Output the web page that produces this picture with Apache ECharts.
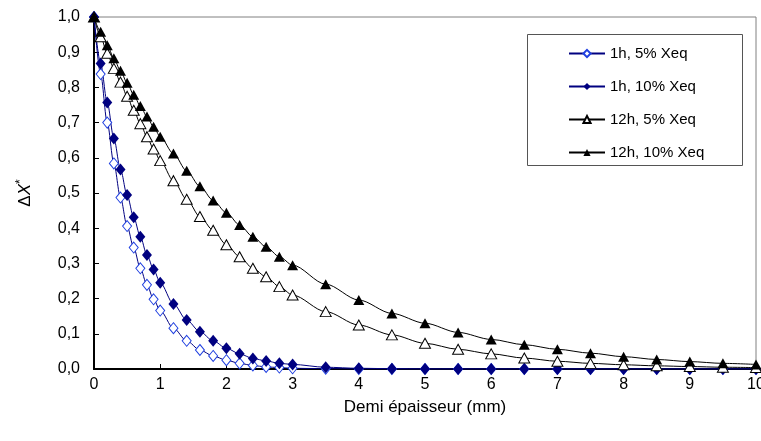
<!DOCTYPE html>
<html>
<head>
<meta charset="utf-8">
<script src="https://cdn.jsdelivr.net/npm/echarts@6/dist/echarts.min.js"></script>
<style>
html,body{margin:0;padding:0;background:#fff;}
#chart{width:761px;height:441px;}
</style>
</head>
<body>
<div id="chart"></div>
<script>
// Demi épaisseur (mm)
var xs = [0,0.1,0.2,0.3,0.4,0.5,0.6,0.7,0.8,0.9,1.0,1.2,1.4,1.6,1.8,2.0,2.2,2.4,2.6,2.8,3.0,3.5,4,4.5,5,5.5,6,6.5,7,7.5,8,8.5,9,9.5,10];
var seriesNames = ['1h, 5% Xeq','1h, 10% Xeq','12h, 5% Xeq','12h, 10% Xeq'];
var h1_5 = [1.0,0.838,0.700,0.584,0.487,0.406,0.345,0.286,0.239,0.198,0.166,0.116,0.080,0.054,0.037,0.025,0.016,0.010,0.006,0.004,0.002,0.001,0,0,0,0,0,0,0,0,0,0,0,0,0];
var h1_10 = [1.0,0.868,0.757,0.655,0.567,0.494,0.431,0.376,0.324,0.283,0.245,0.185,0.139,0.106,0.080,0.059,0.043,0.030,0.023,0.016,0.013,0.005,0.002,0.001,0,0,0,0,0,0,0,0,0,0,0];
var h12_5 = [1.0,0.944,0.897,0.854,0.815,0.775,0.735,0.697,0.660,0.625,0.592,0.535,0.482,0.433,0.394,0.353,0.319,0.286,0.262,0.234,0.210,0.163,0.125,0.097,0.073,0.056,0.043,0.031,0.022,0.016,0.012,0.009,0.007,0.005,0.004];
var h12_10 = [1.0,0.958,0.920,0.883,0.847,0.813,0.779,0.747,0.717,0.688,0.660,0.612,0.563,0.519,0.479,0.444,0.409,0.376,0.347,0.319,0.295,0.241,0.196,0.158,0.130,0.104,0.084,0.069,0.056,0.045,0.035,0.027,0.021,0.016,0.013];
var xTicks = [0,1,2,3,4,5,6,7,8,9,10];

function pairs(ys){ return xs.map(function(x,i){ return [x, ys[i]]; }); }

var FONT = 'Liberation Sans, Arial, sans-serif';
var chart = echarts.init(document.getElementById('chart'), null, {renderer:'canvas'});

var option = {
  animation: false,
  backgroundColor: '#fff',
  textStyle: {fontFamily: FONT, color: '#000'},
  grid: {left: 94, right: 5, top: 17, bottom: 72, show: true, borderColor: '#808080', borderWidth: 1,
    containLabel: false, outerBoundsMode: 'none'},
  xAxis: [{
    type: 'value', min: 0, max: 10, interval: 1,
    name: 'Demi épaisseur (mm)', nameLocation: 'middle', nameGap: 30,
    nameTextStyle: {fontFamily: FONT, fontSize: 17, color: '#000'},
    axisLine: {show: true, onZero: false, lineStyle: {color: '#000', width: 2}},
    axisTick: {show: true, inside: true, length: 5, lineStyle: {color: '#000'}},
    axisLabel: {fontFamily: FONT, fontSize: 16, color: '#000', margin: 8, hideOverlap: false,
      formatter: function(v){ return xTicks.indexOf(v) >= 0 ? String(v) : ''; }},
    splitLine: {show: false}
  },{
    type: 'value', min: 0, max: 10, position: 'top',
    axisLine: {show: true, lineStyle: {color: '#000', width: 1}},
    axisTick: {show: false}, axisLabel: {show: false}, splitLine: {show: false}
  }],
  yAxis: {
    type: 'value', min: 0, max: 1, interval: 0.1,
    name: '{a|Δ}{b|X}{c|*}', nameLocation: 'middle', nameGap: 59, nameRotate: 90,
    nameTextStyle: {fontFamily: FONT, fontSize: 17, color: '#000',
      rich: {
        a: {fontFamily: FONT, fontSize: 17, color: '#000'},
        b: {fontFamily: FONT, fontSize: 17, fontStyle: 'italic', color: '#000'},
        c: {fontFamily: FONT, fontSize: 12, color: '#000', verticalAlign: 'top', padding: [0,0,8,0]}
      }},
    axisLine: {show: true, onZero: false, lineStyle: {color: '#000', width: 2}},
    axisTick: {show: true, inside: true, length: 5, lineStyle: {color: '#000'}},
    axisLabel: {fontFamily: FONT, fontSize: 16, color: '#000', margin: 14,
      formatter: function(v){ return v.toFixed(1).replace('.', ','); }},
    splitLine: {show: false}
  },
  legend: {
    orient: 'vertical', left: 563, top: 41, itemGap: 18, itemWidth: 36, itemHeight: 9,
    textStyle: {fontFamily: FONT, fontSize: 15, color: '#000'},
    data: seriesNames
  },
  graphic: [{
    type: 'rect', shape: {x: 527.5, y: 34.5, width: 215, height: 131},
    style: {fill: 'none', stroke: '#555', lineWidth: 1}, z: -1
  }],
  series: [
    {name: seriesNames[0], type: 'line', data: pairs(h1_5), smooth: 0.3, smoothMonotone: 'x',
      symbol: 'diamond', symbolSize: [9, 11],
      lineStyle: {color: '#000080', width: 1},
      itemStyle: {color: '#ffffff', borderColor: '#2040e0', borderWidth: 1}},
    {name: seriesNames[1], type: 'line', data: pairs(h1_10), smooth: 0.3, smoothMonotone: 'x',
      symbol: 'diamond', symbolSize: [10, 12],
      lineStyle: {color: '#000080', width: 1},
      itemStyle: {color: '#000080', borderColor: '#000080', borderWidth: 0}},
    {name: seriesNames[2], type: 'line', data: pairs(h12_5), smooth: 0.3, smoothMonotone: 'x',
      symbol: 'triangle', symbolSize: [11, 10],
      lineStyle: {color: '#000', width: 1},
      itemStyle: {color: '#ffffff', borderColor: '#000', borderWidth: 1}},
    {name: seriesNames[3], type: 'line', data: pairs(h12_10), smooth: 0.3, smoothMonotone: 'x',
      symbol: 'triangle', symbolSize: [11, 10],
      lineStyle: {color: '#000', width: 1},
      itemStyle: {color: '#000', borderColor: '#000', borderWidth: 0}}
  ]
};
chart.setOption(option);
</script>
</body>
</html>
